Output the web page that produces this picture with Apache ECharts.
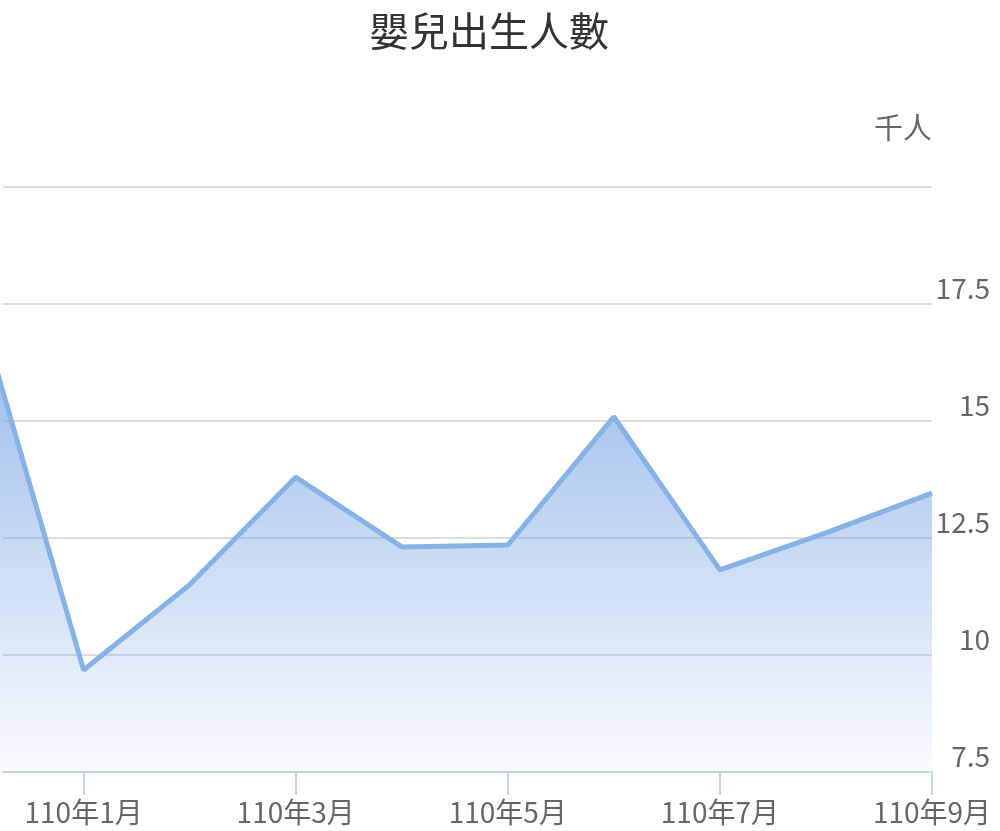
<!DOCTYPE html>
<html>
<head>
<meta charset="utf-8">
<script src="https://cdn.jsdelivr.net/npm/echarts@6/dist/echarts.min.js"></script>
<style>
html,body{margin:0;padding:0;background:#fff;}
#chart{width:1000px;height:831px;}
</style>
</head>
<body>
<div id="chart"></div>
<script>
// Month positions (0 = 109年12月, 1..9 = 110年1月..9月)
const monthIndex = [0, 1, 2, 3, 4, 5, 6, 7, 8, 9];
const monthLabels = ['109年12月','110年1月','110年2月','110年3月','110年4月','110年5月','110年6月','110年7月','110年8月','110年9月'];
const births = [17.5, 9.68, 11.5, 13.8, 12.31, 12.35, 15.09, 11.82, 12.61, 13.46];
const labeledMonths = [1, 3, 5, 7, 9];
const yTicks = [7.5, 10, 12.5, 15, 17.5, 20];

const FONT = "'Noto Sans CJK TC', 'Noto Sans', sans-serif";
const chart = echarts.init(document.getElementById('chart'));
chart.setOption({
  animation: false,
  backgroundColor: '#fff',
  title: {
    text: '嬰兒出生人數',
    left: 364,
    top: 6,
    textStyle: { fontSize: 40, fontWeight: 'normal', color: '#333', fontFamily: FONT }
  },
  grid: { left: 3, right: 68, top: 187, bottom: 59, containLabel: false, outerBoundsMode: 'none' },
  xAxis: {
    type: 'value',
    min: 0.24,
    max: 9,
    splitLine: { show: false },
    axisLine: { show: true, lineStyle: { color: '#c9d4e3', width: 2 } },
    axisTick: { show: true, customValues: labeledMonths, length: 23, lineStyle: { color: '#c9d4e3', width: 2 } },
    axisLabel: {
      customValues: labeledMonths,
      formatter: v => monthLabels[Math.round(v)],
      fontSize: 28, color: '#666', margin: 26, fontFamily: FONT
    }
  },
  yAxis: {
    type: 'value',
    position: 'right',
    min: yTicks[0],
    max: yTicks[yTicks.length - 1],
    interval: 2.5,
    name: '千人',
    nameLocation: 'end',
    nameGap: 59,
    nameTextStyle: { fontSize: 29, color: '#666', align: 'right', verticalAlign: 'middle', fontFamily: FONT },
    axisLine: { show: false },
    axisTick: { show: false },
    splitLine: { lineStyle: { color: '#dddddd', width: 2 } },
    axisLabel: {
      showMaxLabel: false,
      align: 'right',
      verticalAlign: 'bottom',
      margin: 58,
      fontSize: 28, color: '#666', fontFamily: FONT,
      padding: [0, 0, 2, 0]
    }
  },
  series: [{
    type: 'line',
    data: monthIndex.map((m, i) => [m, births[i]]),
    symbol: 'none',
    clip: true,
    lineStyle: { color: '#86b2e6', width: 5 },
    areaStyle: {
      opacity: 1,
      color: new echarts.graphic.LinearGradient(0, 187, 0, 772, [
        { offset: 0, color: 'rgba(120,165,228,1)' },
        { offset: 1, color: 'rgba(120,165,228,0.04)' }
      ], true)
    }
  }]
});
</script>
</body>
</html>
